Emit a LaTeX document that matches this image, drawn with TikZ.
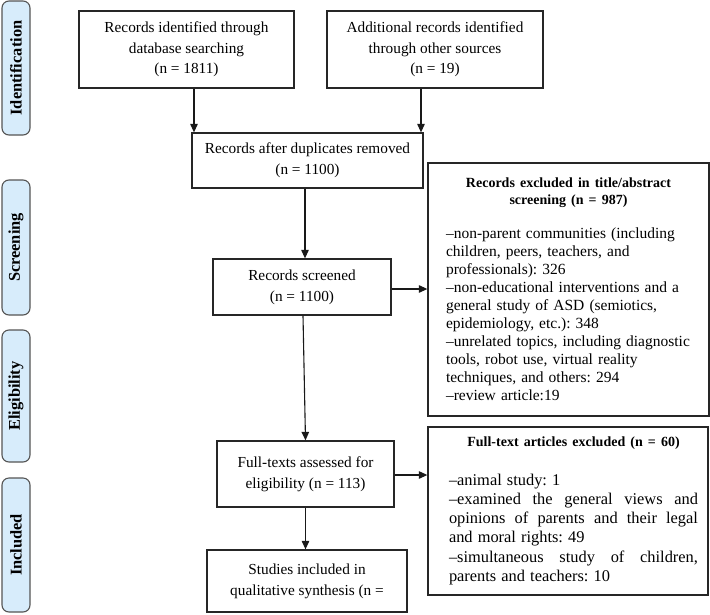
\documentclass[tikz,border=0pt]{standalone}
\usepackage{fontspec}
\setmainfont{Liberation Serif}
\usetikzlibrary{arrows.meta,calc}
\definecolor{sidefill}{RGB}{215,236,251}
\definecolor{sidedraw}{RGB}{85,85,85}
\newcommand\boxfnt{\fontsize{15.3}{20.7}\selectfont}
\newcommand\headfnt{\fontsize{14}{17.3}\selectfont\bfseries}
\newcommand\listfnt{\fontsize{15.5}{18}\selectfont}
\newcommand\sixfnt{\fontsize{16.4}{19.3}\selectfont}
\newcommand\sidefnt{\fontsize{16.4}{18}\selectfont\bfseries}
\frenchspacing
\begin{document}
\begin{tikzpicture}[x=1pt,y=-1pt,
  box/.style={draw=black!85,line width=1.3pt,rectangle,inner sep=0pt,align=center,font=\boxfnt},
  side/.style={draw=sidedraw,fill=sidefill,rounded corners=7pt,line width=1.1pt,rotate=90,inner sep=0pt,minimum height=28pt,font=\sidefnt},
  arr/.style={-{Triangle[length=8.5pt,width=7.5pt]},line width=1.1pt,draw=black!90}]
\useasboundingbox[fill=white] (0,0) rectangle (710,614);
% side labels
\node[side,minimum width=134pt] (sid) at (16,68) {Identification};
\node[side,minimum width=135pt] (sscr) at (16,247.5) {Screening};
\node[side,minimum width=132pt] (seli) at (16,396) {Eligibility};
\node[side,minimum width=134pt] (sinc) at (16,545) {Included};
% main boxes
\node[box,minimum width=215pt,minimum height=77pt] (b1) at (186.5,49.5) {Records identified through\\database searching\\(n = 1811)};
\node[box,minimum width=216pt,minimum height=77pt] (b2) at (435,49.5) {Additional records identified\\through other sources\\(n = 19)};
\node[box,minimum width=231pt,minimum height=55pt] (b3) at (307.5,160.5) {Records after duplicates removed\\(n = 1100)};
\node[box,minimum width=178pt,minimum height=56pt] (b4) at (302,287) {Records screened\\(n = 1100)};
\node[box,minimum width=177pt,minimum height=66pt] (b5) at (305.5,474) {Full-texts assessed for\\eligibility (n = 113)};
\node[box,minimum width=200pt,minimum height=62pt] (b7) at (307,581) {Studies included in\\qualitative synthesis (n =};
% exclusion boxes
\node[box,minimum height=253pt,text width=245pt,inner xsep=18pt,align=left] (e1) at (568.5,289.5) {%
{\centering\headfnt Records excluded in title/abstract\\screening (n = 987)\par}%
\vspace{16pt}%
{\listfnt –non-parent communities (including\\children, peers, teachers, and\\professionals): 326\\–non-educational interventions and a\\general study of ASD (semiotics,\\epidemiology, etc.): 348\\–unrelated topics, including diagnostic\\tools, robot use, virtual reality\\techniques, and others: 294\\–review article:19\par}};
\node[box,minimum height=168pt,text width=260pt,inner xsep=10pt,align=left] (e2) at (568,511) {%
\leftskip=11pt
{\headfnt\makebox[249pt][c]{Full-text articles excluded (n = 60)}\par}%
\vspace{19pt}%
{\sixfnt\makebox[249pt][l]{–animal study: 1}\\
\makebox[249pt]{–examined\hfill the\hfill general\hfill views\hfill and}\\
\makebox[249pt]{opinions\hfill of\hfill parents\hfill and\hfill their\hfill legal}\\
\makebox[249pt][l]{and moral rights: 49}\\
\makebox[249pt]{–simultaneous\hfill study\hfill of\hfill children,}\\
\makebox[249pt][l]{parents and teachers: 10}\par}};
% connectors
\draw[arr] ([xshift=7.5pt]b1.south) -- ([xshift=7.5pt]b1.south |- b3.north);
\draw[arr] ([xshift=-14pt]b2.south) -- ([xshift=-14pt]b2.south |- b3.north);
\draw[arr] ([xshift=-2.5pt]b3.south) -- ([xshift=-2.5pt]b3.south |- b4.north);
\draw[arr] ([xshift=1pt]b4.south) -- (b5.north);
\draw[arr] (b5.south) -- (b5.south |- b7.north);
\draw[arr] ([yshift=-2pt]b4.east) -- ([yshift=-2pt]b4.east -| e1.west);
\draw[arr] ([yshift=-1pt]b5.east) -- ([yshift=-1pt]b5.east -| e2.west);
\end{tikzpicture}
\end{document}
